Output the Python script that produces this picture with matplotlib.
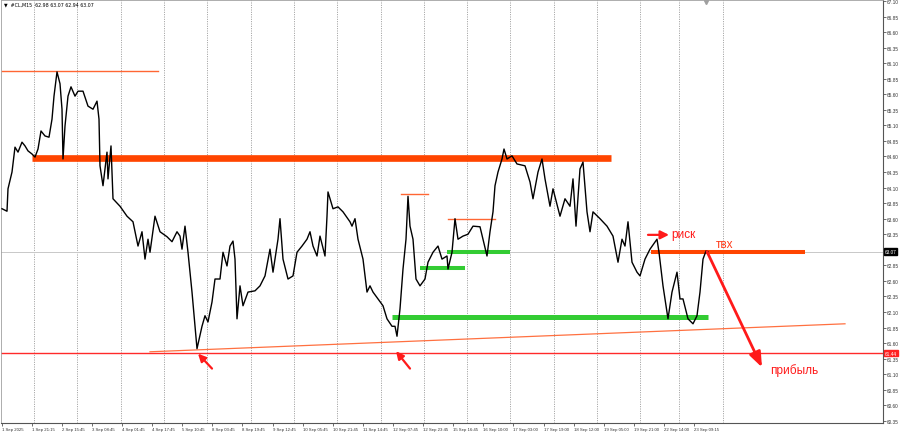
import numpy as np
import matplotlib.pyplot as plt

# --- price path (#CL, M15): column position / price ---
col = [2, 7, 8, 12, 15, 18, 22, 25, 28, 32, 35, 38, 41, 45, 49, 52, 54, 57, 60, 62,
       63, 65, 68, 71, 75, 78, 83, 88, 93, 97, 99, 100, 103, 107, 108, 111, 113, 120, 127, 133,
       138, 142, 145, 148, 150, 155, 160, 167, 172, 177, 180, 182, 185, 188, 192, 195, 197, 202, 205, 208,
       212, 215, 220, 223, 227, 230, 233, 235, 237, 240, 243, 248, 255, 260, 265, 270, 273, 278, 280, 283,
       288, 293, 297, 302, 307, 310, 313, 317, 320, 325, 327, 328, 333, 338, 343, 350, 352, 355, 358, 363,
       367, 370, 373, 378, 383, 387, 392, 395, 397, 400, 403, 406, 408, 410, 413, 416, 420, 425, 428, 433,
       438, 442, 447, 448, 452, 455, 458, 463, 468, 473, 480, 483, 487, 490, 493, 495, 498, 502, 504, 507,
       512, 517, 525, 530, 533, 538, 542, 545, 550, 553, 560, 565, 570, 573, 576, 580, 583, 587, 590, 593,
       600, 607, 613, 618, 622, 625, 628, 632, 637, 640, 645, 650, 657, 659, 663, 668, 672, 677, 680, 683,
       688, 693, 697, 700, 703, 706, 708]
price = [63.76, 63.72, 64.08, 64.35, 64.75, 64.67, 64.83, 64.77, 64.69, 64.64, 64.59, 64.72, 65.01, 64.93, 64.91, 65.20, 65.57, 65.96, 65.77, 65.36,
         64.56, 65.09, 65.57, 65.72, 65.57, 65.65, 65.65, 65.41, 65.36, 65.49, 65.20, 64.45, 64.13, 64.67, 64.24, 64.77, 63.92, 63.80, 63.64, 63.55,
         63.16, 63.39, 62.95, 63.27, 63.06, 63.64, 63.39, 63.31, 63.23, 63.39, 63.32, 63.11, 63.48, 63.06, 62.42, 61.87, 61.51, 61.87, 62.04, 61.94,
         62.26, 62.63, 62.63, 63.06, 62.84, 63.16, 63.24, 62.95, 61.99, 62.52, 62.20, 62.42, 62.44, 62.52, 62.68, 63.11, 62.74, 63.27, 63.60, 62.95,
         62.63, 62.68, 63.06, 63.16, 63.27, 63.39, 63.16, 63.00, 63.32, 63.00, 63.64, 64.03, 63.76, 63.79, 63.71, 63.55, 63.48, 63.60, 63.27, 62.95,
         62.42, 62.52, 62.42, 62.31, 62.20, 61.99, 61.87, 61.87, 61.71, 62.15, 62.79, 63.27, 63.96, 63.48, 63.27, 62.63, 62.52, 62.63, 62.90, 63.06,
         63.16, 62.95, 63.00, 62.79, 63.06, 63.60, 63.27, 63.32, 63.35, 63.48, 63.47, 63.27, 63.00, 63.39, 63.71, 64.13, 64.35, 64.56, 64.72, 64.56,
         64.61, 64.48, 64.45, 64.19, 63.92, 64.35, 64.56, 64.24, 63.80, 64.08, 63.64, 63.92, 63.80, 64.24, 63.48, 64.40, 64.51, 63.71, 63.39, 63.71,
         63.60, 63.48, 63.32, 62.90, 63.27, 63.16, 63.55, 62.90, 62.74, 62.68, 62.95, 63.11, 63.27, 63.06, 62.52, 61.99, 62.42, 62.74, 62.31, 62.31,
         61.99, 61.91, 62.04, 62.42, 62.95, 63.08, 63.07]

date_labels = ["1 Sep 2025", "1 Sep 21:15", "2 Sep 15:45", "3 Sep 08:45", "4 Sep 01:45", "4 Sep 17:45",
               "5 Sep 10:45", "8 Sep 03:45", "8 Sep 19:45", "9 Sep 12:45", "10 Sep 05:45", "10 Sep 21:45",
               "11 Sep 14:45", "12 Sep 07:45", "12 Sep 23:45", "15 Sep 16:45", "16 Sep 10:00", "17 Sep 03:00",
               "17 Sep 19:00", "18 Sep 12:00", "19 Sep 05:00", "19 Sep 21:00", "22 Sep 14:00", "23 Sep 09:15"]
day_lines = [34, 77.3, 120.7, 164, 207.3, 250.7, 294, 337.3, 380.7, 424, 467.3, 510.3, 553.7, 597, 640.5, 679.5, 722.7]

last_price = 63.07
support_price = 61.44

# drawn levels: (start col, end col, price)
thin_orange = [(2, 158, 65.97), (401, 428, 63.99), (448, 495, 63.59)]
green_levels = [(420, 465, 62.81, 2.9), (447, 510, 63.07, 2.9), (392, 708, 62.02, 3.6)]
resistance = (32, 611, 64.58)
entry = (651, 805, 63.07)
trend = ([150, 845], [61.46, 61.91])

small = "Liberation Sans"

fig = plt.figure(figsize=(9, 4.35), dpi=100)
ax = fig.add_axes([1 / 900, 11 / 435, 882 / 900, 423 / 435])
ax.set_xlim(1, 883)
ax.set_ylim(60.315, 67.116)

for d in day_lines:
    ax.axvline(d, color="#8c8c8c", lw=0.6, dashes=(1.2, 1.6), zorder=1)
ax.axhline(last_price, color="#c8c8c8", lw=0.7, zorder=1)
ax.axhline(support_price, color="#ff2a2a", lw=1.0, zorder=2)

ax.plot(col, price, color="black", lw=1.0, zorder=5)

for x0, x1, p in thin_orange:
    ax.plot([x0, x1], [p, p], color="#ff6633", lw=1.0, zorder=3)
ax.plot(trend[0], trend[1], color="#ff7040", lw=0.9, zorder=3)
ax.plot([resistance[0], resistance[1]], [resistance[2]] * 2, color="#ff4500", lw=4.8,
        solid_capstyle="butt", zorder=4)
for x0, x1, p, w in green_levels:
    ax.plot([x0, x1], [p, p], color="#33cc33", lw=w, solid_capstyle="butt", zorder=4)
ax.plot([entry[0], entry[1]], [entry[2]] * 2, color="#ff4500", lw=2.9,
        solid_capstyle="butt", zorder=4)

red = "#ff1a1a"
ax.annotate("", xy=(669, 63.34), xytext=(648, 63.34),
            arrowprops=dict(arrowstyle="-|>,head_length=0.5,head_width=0.25", color=red, lw=1.6,
                            shrinkA=0, shrinkB=0), zorder=6)
ax.annotate("", xy=(762, 61.21), xytext=(707, 63.07),
            arrowprops=dict(arrowstyle="-|>,head_length=0.9,head_width=0.35", color=red, lw=2.0,
                            shrinkA=0, shrinkB=0), zorder=6)
ax.annotate("", xy=(198, 61.43), xytext=(212, 61.19),
            arrowprops=dict(arrowstyle="-|>,head_length=0.45,head_width=0.22", color=red, lw=1.6,
                            shrinkA=0, shrinkB=0), zorder=6)
ax.annotate("", xy=(396, 61.47), xytext=(410, 61.19),
            arrowprops=dict(arrowstyle="-|>,head_length=0.45,head_width=0.22", color=red, lw=1.6,
                            shrinkA=0, shrinkB=0), zorder=6)

ax.text(671, 63.35, "риск", color=red, fontsize=8.5, family=small, va="center", ha="left")
ax.text(725, 63.19, "твх", color="#ff3b1a", fontsize=8.5, family=small, va="center", ha="center")
ax.text(770, 61.18, "прибыль", color=red, fontsize=8.5, family=small, va="center", ha="left")

ax.plot([706], [67.09], marker="v", ms=3, color="#a0a0a0", clip_on=False)
ax.text(4, 67.05, "▼  #CL,M15  62.98 63.07 62.94 63.07", fontsize=3.4, va="center", ha="left")

# right price scale
levels = np.round(np.arange(67.10, 60.30, -0.25), 2)
ax.yaxis.tick_right()
ax.set_yticks(levels)
ax.set_yticklabels(["" if abs(v - 63.10) < 0.01 else f"{v:.2f}" for v in levels], family=small)
ax.tick_params(axis="y", labelsize=3.4, length=2, width=0.5, pad=1, colors="#333333")
for p, bg in [(last_price, "black"), (support_price, "#ff2020")]:
    ax.text(1.002, p, f"{p:.2f}", transform=ax.get_yaxis_transform(), fontsize=3.4, family=small,
            color="white", va="center", ha="left",
            bbox=dict(boxstyle="square,pad=0.2", fc=bg, ec=bg))

# bottom time scale
label_pos = [1.7 + 30.1 * i for i in range(len(date_labels))]
ax.set_xticks(label_pos)
ax.set_xticklabels(date_labels, ha="left", family=small)
ax.tick_params(axis="x", labelsize=3.1, length=2, width=0.5, pad=1, colors="#333333")

for s in ["left", "top"]:
    ax.spines[s].set_color("#a0a0a0")
    ax.spines[s].set_linewidth(0.6)
for s in ["right", "bottom"]:
    ax.spines[s].set_color("#555555")
    ax.spines[s].set_linewidth(0.8)

fig.savefig("out.png", dpi=100, facecolor="white")
